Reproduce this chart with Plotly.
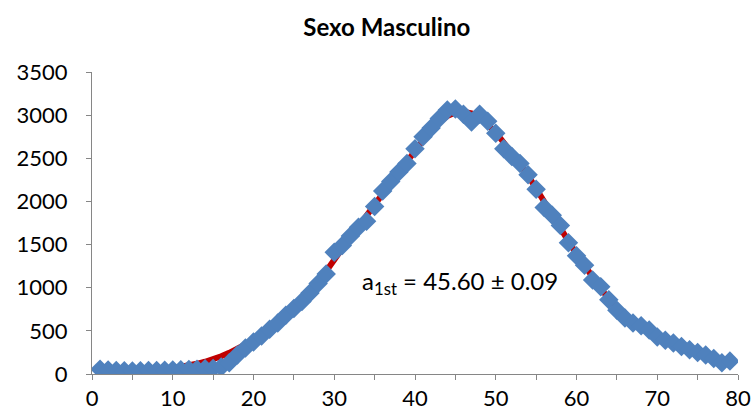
import plotly.graph_objects as go

ages = list(range(1, 80))
counts = [55, 45, 40, 38, 36, 38, 40, 42, 44, 46, 48, 52, 55, 60, 65, 80, 130, 220, 300, 370,
          440, 520, 590, 680, 760, 840, 940, 1050, 1160, 1410, 1490, 1600, 1700, 1770, 1940, 2120, 2230, 2340, 2440, 2610,
          2750, 2850, 2960, 3060, 3070, 3010, 2920, 3010, 2930, 2790, 2610, 2520, 2440, 2310, 2140, 1930, 1840, 1720, 1520, 1370,
          1260, 1090, 1010, 860, 740, 650, 590, 560, 510, 430, 390, 360, 320, 280, 250, 220, 180, 130, 150]
fit = [10, 12, 15, 18, 22, 27, 33, 41, 51, 64, 80, 98, 118, 142, 170, 205, 245, 290, 335, 385,
       440, 510, 590, 680, 770, 860, 960, 1070, 1190, 1330, 1460, 1590, 1710, 1840, 1970, 2100, 2220, 2340, 2460, 2590,
       2710, 2820, 2920, 2990, 3030, 3040, 3020, 2980, 2900, 2800, 2680, 2560, 2440, 2300, 2150, 1990, 1840, 1690, 1540, 1390,
       1250, 1110, 990, 870, 760, 660, 590, 540, 490, 430, 390, 350, 310, 280, 250, 210, 180, 150, 140]
x_ticks = [0, 10, 20, 30, 40, 50, 60, 70, 80]
y_ticks = [0, 500, 1000, 1500, 2000, 2500, 3000, 3500]

fig = go.Figure()
fig.add_trace(go.Scatter(x=ages, y=fit, mode='lines',
                         line=dict(color='#C00000', width=6), showlegend=False))
fig.add_trace(go.Scatter(x=ages, y=counts, mode='markers',
                         marker=dict(symbol='diamond', size=15, color='#4F81BD', line=dict(width=0)),
                         showlegend=False))

axis_font = dict(family='Lato, sans-serif', size=22, color='black')
fig.update_layout(
    width=754, height=417,
    margin=dict(l=92, r=16, t=72, b=43),
    paper_bgcolor='white', plot_bgcolor='white',
    title=dict(text='<b>Sexo Masculino</b>', x=0.513, xref='container', xanchor='center',
               y=0.935, yref='container', yanchor='middle',
               font=dict(family='Lato, sans-serif', size=24, color='black')),
    xaxis=dict(range=[0, 80], tickvals=x_ticks, ticks='outside', ticklen=5, tickcolor='#868686',
               showline=True, linecolor='#868686', linewidth=1, showgrid=False, zeroline=False,
               tickfont=axis_font, automargin=False,
               minor=dict(dtick=5, ticks='outside', ticklen=5, tickcolor='#868686', showgrid=False)),
    yaxis=dict(range=[0, 3500], tickvals=y_ticks, ticks='outside', ticklen=5, tickcolor='#868686',
               showline=True, linecolor='#868686', linewidth=1, showgrid=False, zeroline=False,
               tickfont=axis_font, automargin=False, ticklabelstandoff=14),
    annotations=[dict(x=33.2, y=1060, xref='x', yref='y', xanchor='left', yanchor='middle',
                      text='a<sub>1st</sub> = 45.60 ± 0.09', showarrow=False,
                      font=dict(family='Lato, sans-serif', size=24, color='black'))],
)
fig.write_html('out.html', config={'displayModeBar': False},
               post_script="document.body.style.margin='0';document.body.style.overflow='hidden';")
